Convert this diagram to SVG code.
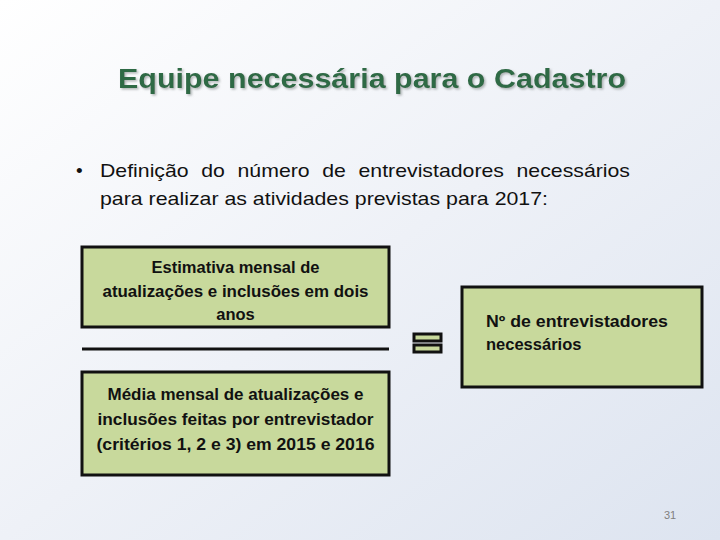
<svg xmlns="http://www.w3.org/2000/svg" width="720" height="540" viewBox="0 0 720 540">
<defs>
<linearGradient id="bg" x1="0" y1="0" x2="1" y2="1">
<stop offset="0" stop-color="#ffffff"/>
<stop offset="0.5" stop-color="#eef1f7"/>
<stop offset="1" stop-color="#dde4f0"/>
</linearGradient>
<filter id="sh" x="-5%" y="-20%" width="110%" height="140%">
<feDropShadow dx="1.5" dy="1.5" stdDeviation="0.8" flood-color="#9aa0a0" flood-opacity="0.8"/>
</filter>
</defs>
<style>
.box{fill:#c8d99c;stroke:#111;stroke-width:3}
.bt{font-family:"Liberation Sans",Arial,sans-serif;font-weight:bold;font-size:16.5px;fill:#111}
.body{font-family:"Liberation Sans",Arial,sans-serif;font-size:19px;fill:#111}
</style>
<rect width="720" height="540" fill="url(#bg)"/>
<text x="372" y="88" text-anchor="middle" font-family="'Liberation Sans',Arial,sans-serif" font-weight="bold" font-size="28" fill="#2f6a45" filter="url(#sh)" textLength="508" lengthAdjust="spacingAndGlyphs">Equipe necessária para o Cadastro</text>
<g id="bullet">
<text x="76" y="177" class="body" font-size="17">•</text>
<text x="100" y="177" class="body" word-spacing="6" textLength="530" lengthAdjust="spacingAndGlyphs">Definição do número de entrevistadores necessários</text>
<text x="100" y="205" class="body" textLength="448" lengthAdjust="spacingAndGlyphs">para realizar as atividades previstas para 2017:</text>
</g>
<g id="numerator">
<rect class="box" x="82" y="247" width="307" height="80"/>
<text class="bt" text-anchor="middle" x="235.5" y="273">Estimativa mensal de</text>
<text class="bt" text-anchor="middle" x="235.5" y="297" textLength="266" lengthAdjust="spacingAndGlyphs">atualizações e inclusões em dois</text>
<text class="bt" text-anchor="middle" x="235.5" y="320">anos</text>
</g>
<g id="fraction-line">
<line x1="82" y1="349" x2="389" y2="349" stroke="#111" stroke-width="3"/>
</g>
<g id="denominator">
<rect class="box" x="82" y="372" width="307" height="103"/>
<text class="bt" text-anchor="middle" x="235.5" y="400" textLength="256" lengthAdjust="spacingAndGlyphs">Média mensal de atualizações e</text>
<text class="bt" text-anchor="middle" x="235.5" y="425" textLength="276" lengthAdjust="spacingAndGlyphs">inclusões feitas por entrevistador</text>
<text class="bt" text-anchor="middle" x="235.5" y="450" textLength="278" lengthAdjust="spacingAndGlyphs">(critérios 1, 2 e 3) em 2015 e 2016</text>
</g>
<g id="equals">
<rect class="box" x="414" y="334" width="27" height="7" stroke-width="2"/>
<rect class="box" x="414" y="345" width="27" height="7" stroke-width="2"/>
</g>
<g id="result">
<rect class="box" x="462" y="287" width="240" height="100"/>
<text class="bt" x="486" y="327" textLength="182" lengthAdjust="spacingAndGlyphs">Nº de entrevistadores</text>
<text class="bt" x="486" y="350">necessários</text>
</g>
<text x="670" y="519" text-anchor="middle" font-family="'Liberation Sans',Arial,sans-serif" font-size="11" fill="#7f7f7f">31</text>
</svg>
